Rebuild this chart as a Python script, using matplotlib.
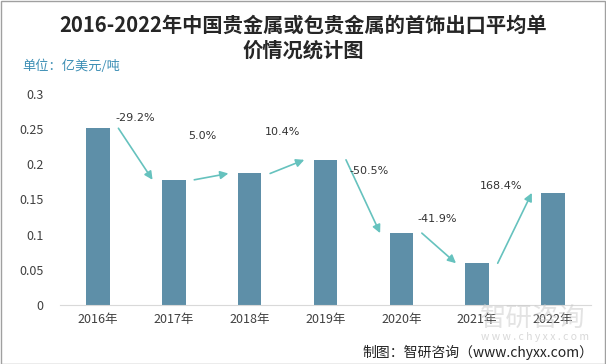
import matplotlib
matplotlib.use('Agg')
import matplotlib.pyplot as plt
from matplotlib.patches import Rectangle

plt.rcParams['font.family'] = ['Noto Sans CJK SC', 'DejaVu Sans']

# data
years = ['2016年', '2017年', '2018年', '2019年', '2020年', '2021年', '2022年']
price = [0.2513, 0.178, 0.187, 0.2064, 0.1022, 0.0594, 0.1594]
growth = ['-29.2%', '5.0%', '10.4%', '-50.5%', '-41.9%', '168.4%']
yticks = [0, 0.05, 0.1, 0.15, 0.2, 0.25, 0.3]
ytick_labels = ['0', '0.05', '0.1', '0.15', '0.2', '0.25', '0.3']

bar_color = '#5E8FA8'
arrow_color = '#66C2BE'
text_color = '#404040'

fig = plt.figure(figsize=(6.06, 3.64), dpi=100)
ax = fig.add_axes([60/606, 1 - 305/364, 531/606, 211/364])

x = list(range(len(years)))
ax.bar(x, price, width=0.31, color=bar_color, zorder=2)

ax.set_xlim(-0.5, len(years) - 0.5)
ax.set_ylim(0, 0.3)
ax.set_yticks(yticks)
ax.set_yticklabels(ytick_labels)
ax.set_xticks(x)
ax.set_xticklabels(years)
ax.tick_params(axis='both', length=0, labelsize=9, colors=text_color)
ax.tick_params(axis='y', pad=12)
ax.tick_params(axis='x', pad=6)
for s in ['top', 'right', 'left']:
    ax.spines[s].set_visible(False)
ax.spines['bottom'].set_color('#D9D9D9')

# growth arrows between bars, labels offset from arrow midpoints
label_offsets = [(0, 0.051), (-0.125, 0.0575), (-0.065, 0.049),
                 (0.075, 0.036), (-0.025, 0.042), (-0.185, 0.06)]
for i, g in enumerate(growth):
    x0, x1 = i + 0.27, i + 1 - 0.28
    y0, y1 = price[i], price[i + 1]
    ax.annotate('', xy=(x1, y1), xytext=(x0, y0),
                arrowprops=dict(arrowstyle='-|>', color=arrow_color, lw=1.2,
                                mutation_scale=12, shrinkA=0, shrinkB=0))
    dx, dy = label_offsets[i]
    ax.text((x0 + x1) / 2 + dx, (y0 + y1) / 2 + dy, g, fontsize=8, color='#333333',
            ha='center', va='center', family=['DejaVu Sans'])

fig.text(0.5 + 0.5/606, 1 - 25/364, '2016-2022年中国贵金属或包贵金属的首饰出口平均单',
         ha='center', va='center', fontsize=14.6, fontweight='bold', color='#262626')
fig.text(0.5 + 0.5/606, 1 - 50/364, '价情况统计图',
         ha='center', va='center', fontsize=14.6, fontweight='bold', color='#262626')
fig.text(22/606, 1 - 66/364, '单位：亿美元/吨', ha='left', va='center',
         fontsize=9.5, color='#3D8FB5')

# watermark
fig.text(533/606, 1 - 318/364, '智研咨询', ha='center', va='center',
         fontsize=19, color='#C8C8C8', alpha=0.5)
fig.text(535/606, 1 - 337/364, 'w w w . c h y x x . c o m', ha='center', va='center',
         fontsize=7.5, color='#C8C8C8', alpha=0.7)
fig.text(593/606, 1 - 352/364, '制图：智研咨询（www.chyxx.com）', ha='right', va='center',
         fontsize=10, color='#222222')

fig.add_artist(Rectangle((0.001, 0.001), 0.997, 0.996, transform=fig.transFigure,
                         fill=False, edgecolor='#A0A0A0', lw=1))

fig.savefig('out.png', dpi=100)
